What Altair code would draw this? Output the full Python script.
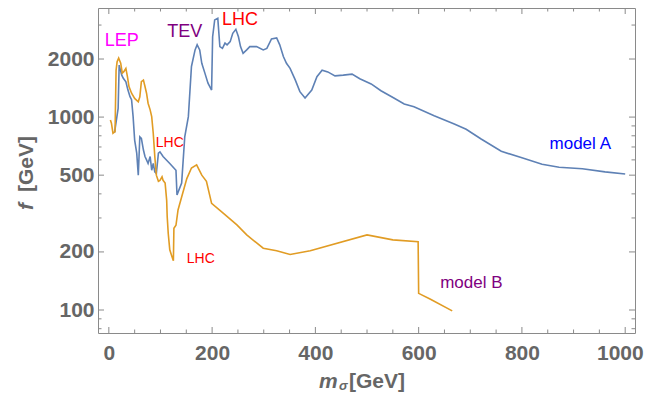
import altair as alt
import pandas as pd

# ---- data ----
modelA_m = [11, 18, 20, 25, 28, 33, 37, 41, 44, 47, 50, 54, 57, 60, 63, 67, 70, 73, 76, 80,
            83, 86, 89, 92, 96, 99, 105, 118, 130, 132, 141, 147, 154, 160, 167, 171, 176, 180,
            186, 192, 199, 201, 205, 211, 215, 220, 225, 229, 235, 240, 246, 251, 255, 260, 267,
            273, 286, 299, 306, 315, 325, 331, 338, 344, 351, 361, 370, 380, 393, 403, 413, 424,
            438, 454, 471, 486, 508, 527, 552, 572, 591, 630, 669, 692, 721, 760, 800, 839, 872,
            917, 961, 1000]
modelA_f = [830, 1110, 1860, 1650, 1590, 1525, 1380, 1275, 1230, 1005, 760, 650, 500, 790, 775,
            675, 625, 600, 575, 625, 530, 575, 520, 510, 650, 660, 625, 575, 530, 395, 455, 790,
            1005, 1830, 2230, 2370, 2230, 1900, 1690, 1500, 1380, 2610, 3190, 3250, 2320, 2270,
            2420, 2370, 2460, 2720, 2850, 2610, 2320, 2140, 2230, 2320, 2320, 2230, 2270, 2540,
            2570, 2370, 2060, 1900, 1790, 1560, 1355, 1255, 1380, 1620, 1750, 1715, 1635, 1650,
            1670, 1580, 1485, 1370, 1255, 1170, 1130, 1015, 920, 865, 770, 665, 615, 570, 550,
            540, 520, 507]

modelB_m = [3, 5, 8, 12, 14, 16, 19, 23, 26, 29, 33, 36, 39, 44, 50, 57, 60, 63, 67, 70,
            73, 76, 80, 83, 86, 89, 92, 96, 99, 103, 105, 109, 112, 113, 115, 118, 122, 125, 126,
            130, 134, 141, 151, 160, 170, 180, 189, 199, 222, 248, 267, 299, 325, 351, 390, 500,
            550, 599, 600, 622, 665]
modelB_f = [967, 930, 825, 840, 1750, 1935, 2020, 1900, 1690, 1720, 1790, 1620, 1440, 1330, 1250,
            1200, 1275, 1525, 1555, 1440, 1330, 1180, 1090, 1005, 825, 625, 500, 465, 470, 490,
            470, 455, 370, 305, 250, 205, 190, 180, 265, 275, 330, 385, 480, 545, 565, 500, 465,
            357, 317, 276, 245, 209, 203, 194, 203, 245, 231, 226, 122, 114, 99]

series_names = ["model A", "model B"]
series_colors = ["#5E81B5", "#E19C24"]

x_major = [0, 200, 400, 600, 800, 1000]
x_minor = [50, 100, 150, 250, 300, 350, 450, 500, 550, 650, 700, 750, 850, 900, 950]
y_major = [100, 200, 500, 1000, 2000]
y_minor = [80, 90, 300, 400, 600, 700, 800, 900, 3000]

ann_text = ["LEP", "TEV", "LHC", "LHC", "LHC", "model A", "model B"]
ann_m = [25, 147, 254, 118, 178, 913, 702]
ann_f = [2480, 2760, 3200, 734, 184, 725, 138]
ann_color = ["#FF00FF", "#800080", "#FF0000", "#FF0000", "#FF0000", "#0000FF", "#800080"]
ann_size = [18, 18, 18, 14, 14, 17, 17]

# ---- build ----
W, H = 537, 325
FONT = "Liberation Sans"
GRAY = "#666666"
FRAME = "#8a8a8a"
MAJ, MIN = 6, 3.5

df = pd.concat([
    pd.DataFrame({"m": modelA_m, "f": modelA_f, "model": series_names[0]}),
    pd.DataFrame({"m": modelB_m, "f": modelB_f, "model": series_names[1]}),
])
ann = pd.DataFrame({"t": ann_text, "m": ann_m, "f": ann_f, "c": ann_color, "s": ann_size})

xs = alt.Scale(domain=[-21, 1019], nice=False, zero=False)
ys = alt.Scale(type="log", domain=[76, 3677], nice=False)

lines = alt.Chart(df).mark_line(strokeWidth=1.6, clip=True).encode(
    x=alt.X("m:Q", scale=xs, axis=alt.Axis(
        orient="bottom", values=x_major, ticks=False, tickSize=0, domain=False, grid=False,
        labelFont=FONT, labelFontSize=21, labelFontWeight="bold", labelColor=GRAY,
        labelPadding=9, labelFlush=10.3, labelFlushOffset=18, title=None, format="d")),
    y=alt.Y("f:Q", scale=ys, axis=alt.Axis(
        orient="left", values=y_major, ticks=False, tickSize=0, domain=False, grid=False,
        labelFont=FONT, labelFontSize=21, labelFontWeight="bold", labelColor=GRAY,
        labelPadding=4, title=None, format="d")),
    color=alt.Color("model:N", scale=alt.Scale(domain=series_names, range=series_colors), legend=None),
)


def xticks(vals, size):
    d = pd.DataFrame({"v": vals})
    bot = alt.Chart(d).mark_rule(color=FRAME, strokeWidth=1).encode(
        x=alt.X("v:Q", scale=xs, axis=None), y=alt.value(H), y2=alt.value(H - size))
    top = alt.Chart(d).mark_rule(color=FRAME, strokeWidth=1).encode(
        x=alt.X("v:Q", scale=xs, axis=None), y=alt.value(0), y2=alt.value(size))
    return [bot, top]


def yticks(vals, size):
    d = pd.DataFrame({"v": vals})
    left = alt.Chart(d).mark_rule(color=FRAME, strokeWidth=1).encode(
        y=alt.Y("v:Q", scale=ys, axis=None), x=alt.value(0), x2=alt.value(size))
    right = alt.Chart(d).mark_rule(color=FRAME, strokeWidth=1).encode(
        y=alt.Y("v:Q", scale=ys, axis=None), x=alt.value(W), x2=alt.value(W - size))
    return [left, right]


ticks = xticks(x_major, MAJ) + xticks(x_minor, MIN) + yticks(y_major, MAJ) + yticks(y_minor, MIN)

annot = alt.Chart(ann).mark_text(font=FONT, align="center", baseline="middle").encode(
    x=alt.X("m:Q", scale=xs, axis=None),
    y=alt.Y("f:Q", scale=ys, axis=None),
    text="t:N",
    color=alt.Color("c:N", scale=None),
    size=alt.Size("s:Q", scale=None),
)


def label(txt, x, y, size=21, style="normal", angle=0, baseline="alphabetic"):
    return alt.Chart(pd.DataFrame({"t": [txt]})).mark_text(
        font=FONT, fontSize=size, fontWeight="bold", fontStyle=style, color=GRAY,
        align="left", baseline=baseline, angle=angle,
    ).encode(x=alt.value(x), y=alt.value(y), text="t:N")


xt1 = label("m", 221, 380, style="italic")
xt2 = label("σ", 241, 382, size=13, style="italic")
xt3 = label("[GeV]", 251, 380)
yt1 = label("f", -71, 202, style="italic", angle=270, baseline="middle")
yt2 = label("[GeV]", -71, 184, angle=270, baseline="middle")

chart = alt.layer(lines, *ticks, annot, xt1, xt2, xt3, yt1, yt2).resolve_axis(
    x="independent", y="independent"
).properties(
    width=W, height=H, autosize="none",
    padding={"left": 90, "top": 0, "right": 9, "bottom": 61},
).configure_view(stroke=FRAME, strokeWidth=1)

chart.save("out.html", embed_options={"renderer": "svg", "actions": False})
